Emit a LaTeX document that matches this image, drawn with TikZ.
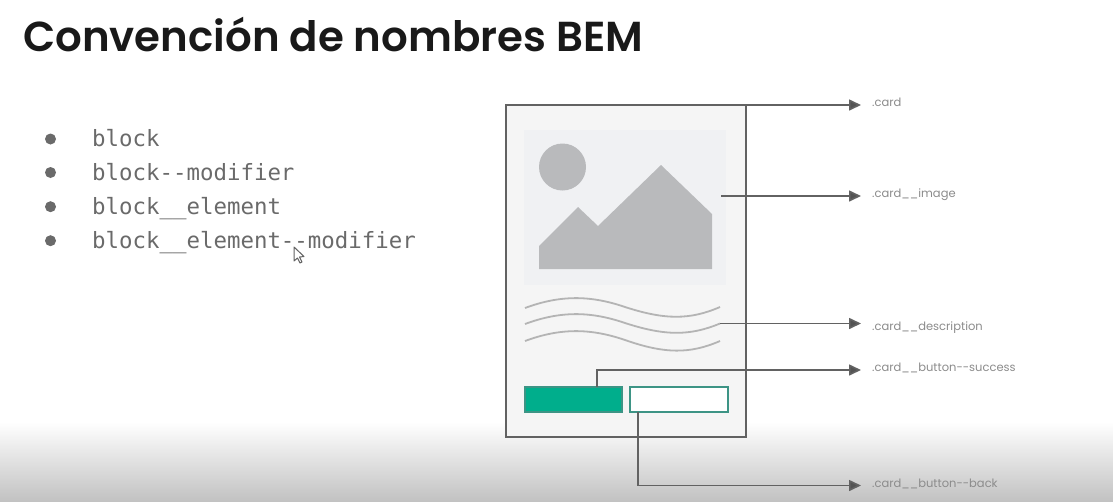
\documentclass[tikz,border=0pt]{standalone}
\usepackage{fontspec}
\setmainfont{Poppins}
\newfontfamily\titlefont{Poppins SemiBold}
\newfontfamily\codefont{DejaVu Sans Mono}
\usetikzlibrary{arrows.meta}
\definecolor{linegrey}{HTML}{626262}
\definecolor{cardbg}{HTML}{F5F5F5}
\definecolor{imgbg}{HTML}{F0F1F3}
\definecolor{imgfg}{HTML}{B9BABC}
\definecolor{wavec}{HTML}{B4B4B4}
\definecolor{teal}{HTML}{00AE8C}
\definecolor{tealedge}{HTML}{3D9485}
\definecolor{textgrey}{HTML}{6A6A6A}
\definecolor{shadmid}{HTML}{F0F0F0}
\definecolor{shadend}{HTML}{C2C2C2}
\tikzset{
  x=1pt,y=-1pt,
  conn/.style={draw=linegrey,line width=1.6pt},
  arrowconn/.style={conn,-{Triangle[length=12pt,width=11pt,fill=linegrey!85!black]}},
  lbl/.style={anchor=base west,inner sep=0pt,text=gray!90,font=\fontsize{11.5}{13}\selectfont},
  code/.style={anchor=base west,inner sep=0pt,text=textgrey,font=\codefont\fontsize{22.4}{26}\selectfont},
  bulletdot/.style={circle,fill=textgrey,inner sep=0pt,minimum size=11pt,outer sep=0pt},
  wave/.style={draw=wavec,line width=1.8pt},
  btn/.style={rectangle,inner sep=0pt,outer sep=0pt,minimum width=97pt,minimum height=25pt,anchor=north west,line width=2pt}
}
\begin{document}
\begin{tikzpicture}
\useasboundingbox (0,0) rectangle (1113,501);
\fill[white] (0,0) rectangle (1113,501);
\shade[top color=white,middle color=shadmid,bottom color=shadend] (0,422) rectangle (1113,501);
% title
\node[anchor=base west,inner sep=0pt,text=black!90,font=\titlefont\fontsize{41.9}{48}\selectfont] (title) at (23,51) {Convención de nombres BEM};
% list
\node[bulletdot] (b1) at (50.5,139) {};
\node[bulletdot] (b2) at (50.5,172.5) {};
\node[bulletdot] (b3) at (50.5,206.7) {};
\node[bulletdot] (b4) at (50.5,240.7) {};
\node[code] (t1) at (92,146) {block};
\node[code] (t2) at (92,180.5) {block-{}-modifier};
\node[code] (t3) at (92,214.5) {block\_\_element};
\node[code] (t4) at (92,248.6) {block\_\_element-{}-modifier};
% cursor
\draw[fill=white,draw=linegrey,line width=1pt,line join=round] (294,247) -- (294,261) -- (297.5,258) -- (300,263) -- (302,262) -- (299.5,257) -- (304,256.5) -- cycle;
% card
\node[rectangle,draw=linegrey,fill=cardbg,line width=2pt,inner sep=0pt,outer sep=0pt,minimum width=240.5pt,minimum height=332pt,anchor=north west] (card) at (505.5,105) {};
\node[rectangle,fill=imgbg,inner sep=0pt,outer sep=0pt,minimum width=202pt,minimum height=155pt,anchor=north west] (image) at (524,130) {};
\fill[imgfg] (562.5,167) circle[radius=23.5];
\fill[imgfg] (539,246) -- (578,207) -- (598,226) -- (661,165) -- (712,214) -- (712,269) -- (539,269) -- cycle;
% waves
\draw[wave] (525,308) .. controls (560,295) and (590,295) .. (625,307) .. controls (665,320) and (690,320) .. (720,307);
\coordinate (waveend) at (720,323.5);
\draw[wave] (525,324) .. controls (560,311) and (590,311) .. (625,323) .. controls (665,336) and (690,336) .. (waveend);
\draw[wave] (525,341) .. controls (560,328) and (590,328) .. (625,340) .. controls (665,354) and (690,354) .. (720,341);
% buttons
\node[btn,fill=teal,draw=tealedge] (success) at (524.5,386.5) {};
\node[btn,fill=white,draw=tealedge,minimum width=98pt] (back) at (629.5,386.5) {};
% labels
\node[lbl] (lcard) at (872,106.5) {.card};
\node[lbl] (limage) at (872,197) {.card\_\_image};
\node[lbl] (ldesc) at (872,330) {.card\_\_description};
\node[lbl] (lsucc) at (872,371.5) {.card\_\_button-{}-success};
\node[lbl] (lback) at (872,487) {.card\_\_button-{}-back};
% arrow ends
\coordinate (tcard) at (861,105);
\coordinate (timage) at (861,196);
\coordinate (tdesc) at (861,323.5);
\coordinate (tsucc) at (861,370);
\coordinate (tback) at (861,485.5);
\coordinate (simage) at (721,196);
\coordinate (ssucc) at (597,370);
\coordinate (sback) at (638,485.5);
% connectors
\draw[arrowconn] (card.north east) -- (tcard);
\draw[arrowconn] (simage) -- (timage);
\draw[arrowconn] (waveend) -- (tdesc);
\draw[arrowconn] (success.north -| ssucc) -- (ssucc) -- (tsucc);
\draw[arrowconn] (back.south -| sback) -- (sback) -- (tback);
\end{tikzpicture}
\end{document}
